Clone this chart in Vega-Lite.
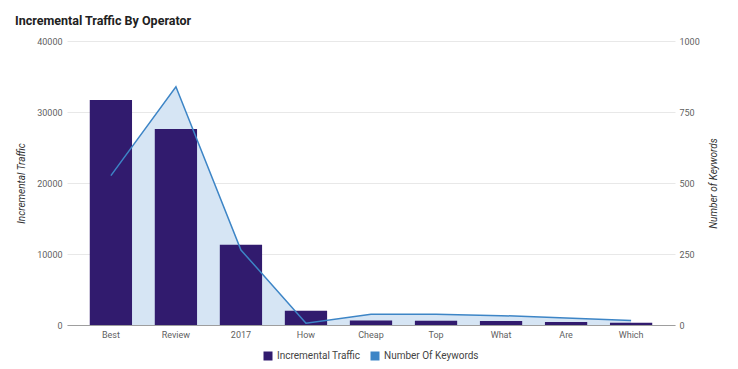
{
  "$schema": "https://vega.github.io/schema/vega-lite/v6.json",
  "width": 608,
  "height": 284,
  "autosize": {"type": "none"},
  "padding": {"left": 67, "top": 41, "right": 63, "bottom": 44},
  "background": "white",
  "title": {
    "text": "Incremental Traffic By Operator",
    "anchor": "start",
    "frame": "group",
    "font": "Roboto",
    "fontSize": 12.5,
    "fontWeight": "bold",
    "color": "#212121",
    "dx": -52,
    "offset": 10
  },
  "data": {
    "values": [
      {"term": "Best", "traffic": 31700, "keywords": 526},
      {"term": "Review", "traffic": 27600, "keywords": 839},
      {"term": "2017", "traffic": 11300, "keywords": 264},
      {"term": "How", "traffic": 2000, "keywords": 6},
      {"term": "Cheap", "traffic": 650, "keywords": 38},
      {"term": "Top", "traffic": 600, "keywords": 38},
      {"term": "What", "traffic": 560, "keywords": 33},
      {"term": "Are", "traffic": 420, "keywords": 25},
      {"term": "Which", "traffic": 300, "keywords": 16}
    ]
  },
  "encoding": {
    "x": {
      "field": "term",
      "type": "nominal",
      "sort": null,
      "scale": {"paddingInner": 0.35, "paddingOuter": 0.35},
      "axis": {
        "title": null,
        "labelAngle": 0,
        "domain": true,
        "domainColor": "#9e9e9e",
        "labelPadding": 5,
        "grid": false
      }
    }
  },
  "layer": [
    {
      "mark": {"type": "area", "color": "#d6e5f4", "opacity": 1},
      "encoding": {
        "y": {
          "field": "keywords",
          "type": "quantitative",
          "scale": {"domain": [0, 1000], "nice": false},
          "axis": null
        }
      }
    },
    {
      "mark": {"type": "bar"},
      "encoding": {
        "y": {
          "field": "traffic",
          "type": "quantitative",
          "scale": {"domain": [0, 40000], "nice": false},
          "axis": {
            "orient": "left",
            "title": "Incremental Traffic",
            "values": [0, 10000, 20000, 30000, 40000],
            "format": "d",
            "grid": true,
            "labelPadding": 5,
            "titlePadding": 10
          }
        },
        "color": {
          "datum": "Incremental Traffic",
          "scale": {
            "domain": ["Incremental Traffic", "Number Of Keywords"],
            "range": ["#311b6e", "#3d85c6"]
          },
          "legend": {
            "orient": "none",
            "legendX": 196,
            "legendY": 310,
            "direction": "horizontal",
            "title": null,
            "symbolType": "square",
            "symbolSize": 81,
            "symbolStrokeWidth": 0,
            "labelFont": "Roboto",
            "labelFontSize": 10,
            "labelColor": "#444444",
            "columnPadding": 9,
            "encode": {
              "symbols": {
                "update": {
                  "fill": {"scale": "color", "field": "value"},
                  "opacity": {"value": 1}
                }
              }
            }
          }
        }
      }
    },
    {
      "mark": {"type": "line", "strokeWidth": 1.5, "color": "#4f8cc9"},
      "encoding": {
        "y": {
          "field": "keywords",
          "type": "quantitative",
          "scale": {"domain": [0, 1000], "nice": false},
          "axis": {
            "orient": "right",
            "title": "Number of Keywords",
            "values": [0, 250, 500, 750, 1000],
            "format": "d",
            "grid": false,
            "labelPadding": 4,
            "titlePadding": 19,
            "titleAngle": 270
          }
        },
        "color": {"datum": "Number Of Keywords"}
      }
    }
  ],
  "resolve": {"scale": {"y": "independent"}},
  "config": {
    "view": {"stroke": null},
    "axis": {
      "labelFont": "Roboto",
      "labelFontSize": 9,
      "labelColor": "#5f5f5f",
      "titleFont": "Roboto",
      "titleFontSize": 10,
      "titleFontStyle": "italic",
      "titleFontWeight": "normal",
      "titleColor": "#333333",
      "ticks": false,
      "domain": false,
      "gridColor": "#e8e8e8"
    }
  }
}
